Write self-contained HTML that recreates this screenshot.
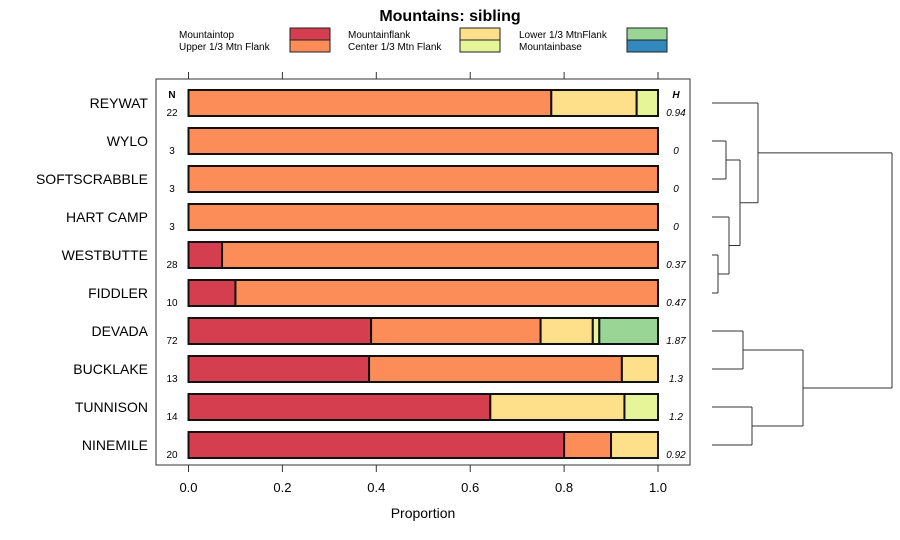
<!DOCTYPE html>
<html><head><meta charset="utf-8"><style>
body{margin:0;background:#fff}
svg{font-family:"Liberation Sans",sans-serif;display:block}
</style></head><body>
<svg id="chart" width="900" height="540">
<text x="450" y="21" text-anchor="middle" font-size="16" font-weight="bold">Mountains: sibling</text>
<g id="legend"></g>
<rect x="156" y="79" width="534" height="386" fill="none" stroke="#333" stroke-width="1"/>
<g id="axis"></g>
<g id="bars"></g>
<g id="dendro"></g>
<text x="172" y="98" text-anchor="middle" font-size="10" font-weight="bold">N</text>
<text x="676" y="98" text-anchor="middle" font-size="10" font-weight="bold" font-style="italic">H</text>
<text x="423" y="518" text-anchor="middle" font-size="14">Proportion</text>
</svg>
<script>
const categories=["REYWAT","WYLO","SOFTSCRABBLE","HART CAMP","WESTBUTTE","FIDDLER","DEVADA","BUCKLAKE","TUNNISON","NINEMILE"];
const nValues=[22,3,3,3,28,10,72,13,14,20];
const hValues=["0.94","0","0","0","0.37","0.47","1.87","1.3","1.2","0.92"];
const seriesNames=["Mountaintop","Upper 1/3 Mtn Flank","Mountainflank","Center 1/3 Mtn Flank","Lower 1/3 MtnFlank","Mountainbase"];
const colors=["#D53E4F","#FC8D59","#FEE08B","#E6F598","#99D594","#3288BD"];
const mountaintop=[0,0,0,0,2,1,28,5,9,16];
const upperFlank=[17,3,3,3,26,9,26,7,0,2];
const mountainflank=[4,0,0,0,0,0,8,1,4,2];
const centerFlank=[1,0,0,0,0,0,1,0,1,0];
const lowerFlank=[0,0,0,0,0,0,9,0,0,0];
const mountainbase=[0,0,0,0,0,0,0,0,0,0];
const ticks=[0,0.2,0.4,0.6,0.8,1.0];
const tickLabels=["0.0","0.2","0.4","0.6","0.8","1.0"];

const NS="http://www.w3.org/2000/svg";
function mk(tag,attrs,parent,text){const e=document.createElementNS(NS,tag);for(const k in attrs)e.setAttribute(k,attrs[k]);if(text!==undefined)e.textContent=text;parent.appendChild(e);return e;}
const xs=v=>188.5+v*469.5;
const ys=i=>103+i*38;
const series=[mountaintop,upperFlank,mountainflank,centerFlank,lowerFlank,mountainbase];

const lg=document.getElementById('legend');
const lpos=[[179,290],[348,460],[519,627]];
seriesNames.forEach((s,k)=>{const c=Math.floor(k/2),r=k%2;
 const t=mk('text',{x:lpos[c][0],y:38+r*12,'font-size':10},lg,s);
 
 
 const b=mk('rect',{x:lpos[c][1],y:28+r*12,width:40,height:12,fill:colors[k],stroke:'#222','stroke-width':1},lg);
 
 
});

const ax=document.getElementById('axis');
ticks.forEach((t,i)=>{
 const l1=mk('line',{x1:xs(t),x2:xs(t),y1:465,y2:472,stroke:'#333'},ax);
 
 
 const l2=mk('line',{x1:xs(t),x2:xs(t),y1:72,y2:79,stroke:'#333'},ax);
 
 
 const tl=mk('text',{x:xs(t),y:492,'text-anchor':'middle','font-size':13},ax,tickLabels[i]);
 
 
});

const bg=document.getElementById('bars');
categories.forEach((c,i)=>{
 const y=ys(i);
 const lab=mk('text',{x:148,y:y+5,'text-anchor':'end','font-size':14},bg,c);
 
 
 const nt=mk('text',{x:172,y:y+13,'text-anchor':'middle','font-size':10},bg,nValues[i]);
 
 
 const ht=mk('text',{x:676,y:y+13,'text-anchor':'middle','font-size':10,'font-style':'italic'},bg,hValues[i]);
 
 
 let tot=0;series.forEach(s=>tot+=s[i]);
 let cum=0;
 series.forEach((s,k)=>{if(s[i]<=0)return;
  const x0=xs(cum/tot);cum+=s[i];const x1=xs(cum/tot);
  const r=mk('rect',{x:x0,y:y-13,width:x1-x0,height:26,fill:colors[k],stroke:'#111','stroke-width':2},bg);
  
  
 });
});

const dg=document.getElementById('dendro');
function seg(x1,y1,x2,y2){const l=mk('line',{x1:x1,y1:y1,x2:x2,y2:y2,stroke:'#333','stroke-width':1},dg);
 
 }
// merges: [childA, childB, height x]; children: leaf index or node id
const merges=[[1,2,726],[4,5,718],[3,"n1",729],["n0","n2",740],[0,"n3",758],[6,7,743],[8,9,752],["n5","n6",803],["n4","n7",892]];
const nodes={};
function pos(c){return typeof c==="number"?{x:712,y:ys(c)}:nodes[c];}
merges.forEach((m,j)=>{const a=pos(m[0]),b=pos(m[1]),h=m[2];
 seg(a.x,a.y,h,a.y);seg(b.x,b.y,h,b.y);seg(h,a.y,h,b.y);
 nodes["n"+j]={x:h,y:(a.y+b.y)/2};});
</script>
</body></html>
